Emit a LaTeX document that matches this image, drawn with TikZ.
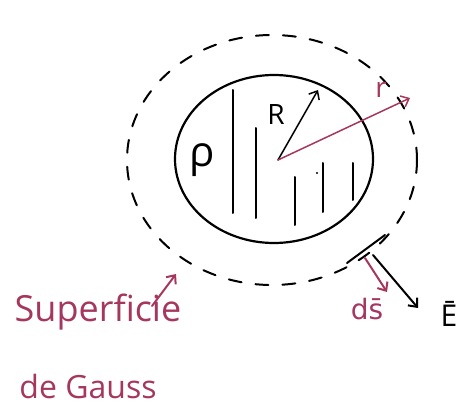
\documentclass[tikz,border=0pt]{standalone}
\usepackage{xcolor}
\usepackage{tikz}
\usepackage{fontspec}
\setmainfont{Open Sans}
\newfontfamily\dejavu{DejaVu Sans}
\usetikzlibrary{arrows.meta}
\definecolor{mypink}{RGB}{165,55,95}

\tikzset{
  pen/.style={line width=2pt, line cap=round},
  barb/.style={-{Straight Barb[length=7pt,width=12pt]}},
  lbl/.style={inner sep=0pt, font=\fontsize{#1}{#1}\selectfont}
}

\begin{document}
\begin{tikzpicture}[x=1pt,y=-1pt]
\useasboundingbox (0,0) rectangle (472,409);

% Gauss surface
\draw[pen, dash pattern=on 13pt off 14pt] (272,160) ellipse (145 and 125);
\coordinate (tA) at (347,263);
\coordinate (tB) at (385,235);
\draw[pen] (tA) -- (tB);

% charged sphere
\draw[pen, line width=2.2pt] (274,159) ellipse (99 and 84);

% charge hatching
\draw[pen] (233,90) -- (233,213);
\draw[pen] (256,128) -- (256,218);
\draw[pen] (295,177) -- (295,225);
\draw[pen] (323,163) -- (323,212);
\draw[pen] (353,163) -- (353,200);
\fill (317,173) circle (1.2);

% radii
\coordinate (O) at (278,160);
\coordinate (Rtip) at (318,90);
\coordinate (rtip) at (410,98);
\draw[pen, line width=1.5pt, barb] (O) -- (Rtip);
\draw[pen, line width=1.5pt, mypink, barb] (O) -- (rtip);
\node[lbl=28] (R) at (276,115) {R};
\node[lbl=28, mypink] (r) at (381,90) {r};
\node[lbl=42] (rho) at (202,160) {ρ};

% ds and E
\coordinate (dsA) at (365,258);
\coordinate (dsB) at (387,292);
\coordinate (EA) at (373,255);
\coordinate (EB) at (418,308);
\draw[pen, mypink, barb] (dsA) -- (dsB);
\draw[pen, barb] (EA) -- (EB);
\node[lbl=28, mypink] (ds) at (367,309) {\dejavu ds̄};
\node[lbl=30] (E) at (449,314) {\=E};

% label
\node[lbl=36, mypink] (sup) at (98,312) {Superficie};
\node[lbl=32, mypink] (gauss) at (88,387) {de Gauss};
\coordinate (gA) at (152,306);
\coordinate (gB) at (176,274);
\draw[pen, mypink, barb] (gA) -- (gB);

\end{tikzpicture}
\end{document}
